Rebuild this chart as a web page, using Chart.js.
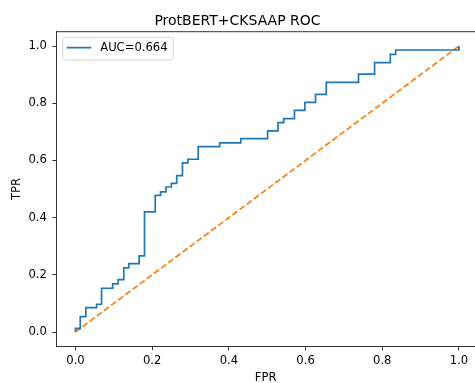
<!DOCTYPE html>
<html>
<head>
<meta charset="utf-8">
<script src="https://cdn.jsdelivr.net/npm/chart.js@4"></script>
<style>
  html, body { margin: 0; padding: 0; background: #fff; overflow: hidden; }
  #rocChart { display: block; }
</style>
</head>
<body>
<canvas id="rocChart" width="475" height="383"></canvas>
<script>
// Dữ liệu đường ROC
const fpr = [0, 0, 0.0125, 0.0125, 0.027, 0.027, 0.055, 0.055, 0.068, 0.068,
  0.097, 0.097, 0.111, 0.111, 0.126, 0.126, 0.139, 0.139, 0.166, 0.166,
  0.18, 0.18, 0.208, 0.208, 0.222, 0.222, 0.236, 0.236, 0.25, 0.25,
  0.264, 0.264, 0.279, 0.279, 0.293, 0.293, 0.32, 0.32, 0.376, 0.376,
  0.431, 0.431, 0.501, 0.501, 0.528, 0.528, 0.543, 0.543, 0.571, 0.571,
  0.598, 0.598, 0.626, 0.626, 0.654, 0.654, 0.738, 0.738, 0.78, 0.78,
  0.821, 0.821, 0.835, 0.835, 1.0, 1.0];
const tpr = [0, 0.013, 0.013, 0.054, 0.054, 0.085, 0.085, 0.097, 0.097, 0.153,
  0.153, 0.168, 0.168, 0.183, 0.183, 0.224, 0.224, 0.239, 0.239, 0.266,
  0.266, 0.42, 0.42, 0.478, 0.478, 0.49, 0.49, 0.507, 0.507, 0.52,
  0.52, 0.547, 0.547, 0.591, 0.591, 0.604, 0.604, 0.648, 0.648, 0.661,
  0.661, 0.676, 0.676, 0.703, 0.703, 0.732, 0.732, 0.746, 0.746, 0.775,
  0.775, 0.803, 0.803, 0.831, 0.831, 0.873, 0.873, 0.902, 0.902, 0.942,
  0.942, 0.971, 0.971, 0.986, 0.986, 1.0];
const chanceX = [0, 1];
const chanceY = [0, 1];
const tickValues = [0, 0.2, 0.4, 0.6, 0.8, 1.0];
const aucLabel = 'AUC=0.664';

const font = "'DejaVu Sans', sans-serif";
const fontSize = 11.6;

function toPoints(xs, ys) {
    return xs.map(function (x, i) { return {x: x, y: ys[i]}; });
}

// Vẽ viền trên và chú thích (legend) trong vùng biểu đồ
const framePlugin = {
    id: 'framePlugin',
    afterDatasetsDraw: function (chart) {
        const ctx = chart.ctx;
        const a = chart.chartArea;
        ctx.save();
        ctx.strokeStyle = '#000';
        ctx.lineWidth = 0.8;
        ctx.beginPath();
        ctx.moveTo(a.left, a.top);
        ctx.lineTo(a.right, a.top);
        ctx.stroke();

        // khung legend
        const x = a.left + 6.4, y = a.top + 5.6, w = 110.6, h = 22.7;
        ctx.beginPath();
        ctx.roundRect(x, y, w, h, 2.5);
        ctx.fillStyle = 'rgba(255,255,255,0.8)';
        ctx.fill();
        ctx.strokeStyle = '#cccccc';
        ctx.lineWidth = 0.8;
        ctx.stroke();

        const ds = chart.data.datasets[0];
        const cy = y + h / 2 - 1;
        ctx.strokeStyle = ds.borderColor;
        ctx.lineWidth = ds.borderWidth;
        ctx.beginPath();
        ctx.moveTo(x + 4, cy);
        ctx.lineTo(x + 28.5, cy);
        ctx.stroke();

        ctx.fillStyle = '#000';
        ctx.font = fontSize + 'px ' + font;
        ctx.textBaseline = 'middle';
        ctx.textAlign = 'left';
        ctx.fillText(ds.label, x + 37.5, cy + 0.5);
        ctx.restore();
    }
};

document.addEventListener("DOMContentLoaded", function () {
    var ctx = document.getElementById('rocChart').getContext('2d');
    var rocChart = new Chart(ctx, {
        type: 'scatter',
        data: {
            datasets: [{
                    label: aucLabel,
                    data: toPoints(fpr, tpr),
                    showLine: true,
                    borderColor: '#1f77b4',
                    backgroundColor: '#1f77b4',
                    borderWidth: 1.7,
                    pointRadius: 0,
                    tension: 0
                }, {
                    label: 'chance',
                    data: toPoints(chanceX, chanceY),
                    showLine: true,
                    borderColor: '#ff7f0e',
                    backgroundColor: '#ff7f0e',
                    borderWidth: 1.7,
                    borderDash: [6.2, 2.7],
                    pointRadius: 0
                }]
        },
        options: {
            responsive: false,
            devicePixelRatio: 1,
            animation: false,
            layout: {padding: {left: 0, right: 0, top: 0, bottom: 0}},
            scales: {
                x: {
                    type: 'linear',
                    min: -0.05,
                    max: 1.0418,
                    afterBuildTicks: function (scale) {
                        scale.ticks = tickValues.map(function (v) { return {value: v}; });
                    },
                    afterFit: function (scale) { scale.height = 36.7; },
                    grid: {drawOnChartArea: false, drawTicks: true, tickLength: 3.9, tickWidth: 0.8, tickColor: '#000'},
                    border: {display: true, color: '#000', width: 0.8},
                    ticks: {
                        color: '#000',
                        padding: 4,
                        maxRotation: 0,
                        font: {family: font, size: fontSize},
                        callback: function (v) { return v.toFixed(1); }
                    },
                    title: {display: true, text: 'FPR', color: '#000', padding: {top: 0, bottom: -1.5}, font: {family: font, size: fontSize}}
                },
                y: {
                    type: 'linear',
                    min: -0.05,
                    max: 1.05,
                    afterBuildTicks: function (scale) {
                        scale.ticks = tickValues.map(function (v) { return {value: v}; });
                    },
                    afterFit: function (scale) { scale.width = 56.3; },
                    grid: {drawOnChartArea: false, drawTicks: true, tickLength: 3.9, tickWidth: 0.8, tickColor: '#000'},
                    border: {display: true, color: '#000', width: 0.8},
                    ticks: {
                        color: '#000',
                        padding: 5.5,
                        font: {family: font, size: fontSize},
                        callback: function (v) { return v.toFixed(1); }
                    },
                    title: {display: true, text: 'TPR', color: '#000', padding: {top: 10, bottom: 0}, font: {family: font, size: fontSize}}
                }
            },
            plugins: {
                title: {
                    display: true,
                    text: 'ProtBERT+CKSAAP ROC',
                    color: '#000',
                    font: {family: font, size: 14, weight: 'normal'},
                    padding: {top: 12.5, bottom: 2.4}
                },
                legend: {display: false},
                tooltip: {enabled: false}
            }
        },
        plugins: [framePlugin]
    });
});
</script>
</body>
</html>
